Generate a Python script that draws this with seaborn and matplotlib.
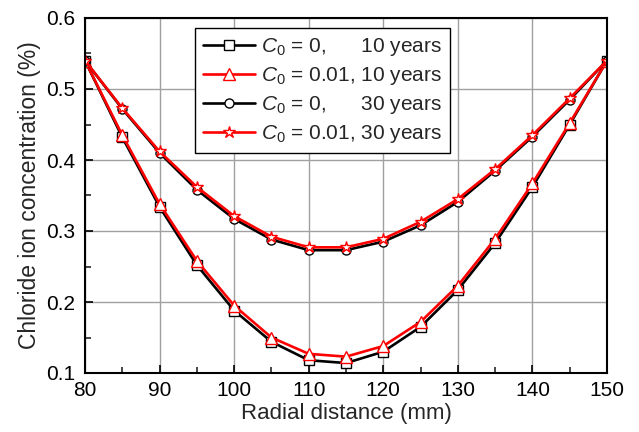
import matplotlib
matplotlib.use("Agg")
import matplotlib.pyplot as plt
import seaborn as sns
import pandas as pd
from matplotlib.ticker import MultipleLocator, FormatStrFormatter

radial = [80, 85, 90, 95, 100, 105, 110, 115, 120, 125, 130, 135, 140, 145, 150]
c0_0_10y = [0.540, 0.432, 0.334, 0.252, 0.188, 0.144, 0.118, 0.114, 0.130, 0.165, 0.217, 0.283, 0.362, 0.450, 0.540]
c0_001_10y = [0.540, 0.435, 0.338, 0.258, 0.195, 0.150, 0.127, 0.123, 0.138, 0.172, 0.223, 0.289, 0.367, 0.452, 0.540]
c0_0_30y = [0.540, 0.472, 0.410, 0.358, 0.317, 0.288, 0.273, 0.273, 0.285, 0.308, 0.341, 0.385, 0.433, 0.485, 0.540]
c0_001_30y = [0.540, 0.473, 0.412, 0.362, 0.321, 0.292, 0.277, 0.277, 0.289, 0.313, 0.345, 0.387, 0.435, 0.487, 0.540]

labels = [r"$C_0$ = 0,      10 years", r"$C_0$ = 0.01, 10 years",
          r"$C_0$ = 0,      30 years", r"$C_0$ = 0.01, 30 years"]
series = [c0_0_10y, c0_001_10y, c0_0_30y, c0_001_30y]
colors = ["black", "red", "black", "red"]
markers = ["s", "^", "o", "*"]
msizes = [6.5, 8, 6.5, 9]

sns.set_theme(style="ticks")
plt.rcParams['font.family'] = ['Liberation Sans', 'DejaVu Sans']
plt.rcParams['mathtext.fontset'] = 'custom'
plt.rcParams['mathtext.rm'] = 'Liberation Sans'
plt.rcParams['mathtext.it'] = 'Liberation Sans:italic'

fig = plt.figure(figsize=(6.39, 4.32), dpi=100)
ax = fig.add_axes([85/639, 1 - 373/432, (607-85)/639, (373-18)/432])

for vals, lab, col, mk, ms in zip(series, labels, colors, markers, msizes):
    df = pd.DataFrame({"x": radial, "y": vals})
    sns.lineplot(data=df, x="x", y="y", ax=ax, color=col, marker=mk,
                 markersize=ms, markerfacecolor="white", markeredgecolor=col,
                 markeredgewidth=1.0, linewidth=1.9, label=lab)

ax.set_xlim(80, 150)
ax.set_ylim(0.1, 0.6)
ax.xaxis.set_major_locator(MultipleLocator(10))
ax.xaxis.set_minor_locator(MultipleLocator(5))
ax.yaxis.set_major_locator(MultipleLocator(0.1))
ax.yaxis.set_minor_locator(MultipleLocator(0.05))
ax.yaxis.set_major_formatter(FormatStrFormatter('%.1f'))
ax.grid(True, which="major", color="#a0a0a0", linewidth=1.0)
ax.set_axisbelow(True)
ax.tick_params(which="major", direction="in", length=6, width=1.2, labelsize=15, colors="black")
ax.tick_params(axis="y", which="major", pad=7)
ax.tick_params(axis="x", which="major", pad=6)
ax.tick_params(which="minor", direction="in", length=4, width=1.2)
for s in ax.spines.values():
    s.set_linewidth(1.5)
    s.set_color("black")
ax.set_xlabel("Radial distance (mm)", fontsize=16, labelpad=2)
ax.set_ylabel("Chloride ion concentration (%)", fontsize=16.5, labelpad=4)

leg = ax.legend(loc="upper left", bbox_to_anchor=(0.211, 0.972), borderaxespad=0,
                fontsize=15, frameon=True, fancybox=False, edgecolor="black", framealpha=1,
                handlelength=2.45, labelspacing=0.33, borderpad=0.4, handletextpad=0.3)
leg.get_frame().set_linewidth(1.0)

fig.savefig("out.png", dpi=100)
